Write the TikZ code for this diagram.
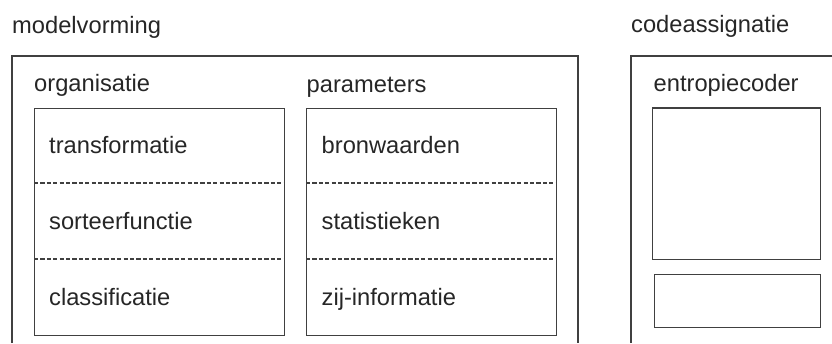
\documentclass[tikz,border=0pt]{standalone}
\usepackage{fontspec}
\setmainfont{Liberation Sans}
\begin{document}
\begin{tikzpicture}[x=1pt, y=-1pt,
  frame/.style={draw=black!75, line width=1.2pt},
  panel/.style={frame, minimum width=250pt, inner sep=0pt, anchor=north west},
  divider/.style={draw=black!75, line width=1.1pt, dash pattern=on 4.2pt off 2.2pt},
  lbl/.style={anchor=base west, inner sep=0pt, text=black!85,
    font=\fontsize{23.7}{28}\selectfont}]
  \useasboundingbox (0,0) rectangle (832,343);

  % open frames (they run past the bottom edge)
  \draw[frame] (12,343) |- (578,56) -- (578,343);
  \draw[frame] (631,343) |- (832,56);

  % section titles
  \node[lbl] (mv) at (12,33) {modelvorming};
  \node[lbl] (ca) at (631,32.5) {codeassignatie};

  % organisatie column
  \node[lbl] (orgT) at (34,91.5) {organisatie};
  \node[panel, minimum height=227pt] (org) at (34,107.5) {};
  \draw[divider] (34,183) -- (284,183);
  \draw[divider] (34,259) -- (284,259);
  \node[lbl] (t1) at (49,153.5) {transformatie};
  \node[lbl] (t2) at (49,229.5) {sorteerfunctie};
  \node[lbl] (t3) at (49,305) {classificatie};

  % parameters column
  \node[lbl] (parT) at (306.5,92) {parameters};
  \node[panel, minimum height=227pt] (par) at (306,107.5) {};
  \draw[divider] (306,183) -- (556,183);
  \draw[divider] (306,259) -- (556,259);
  \node[lbl] (p1) at (321.5,153.5) {bronwaarden};
  \node[lbl] (p2) at (321.5,229.5) {statistieken};
  \node[lbl] (p3) at (321.5,305) {zij-informatie};

  % entropiecoder
  \node[lbl] (ecT) at (653.5,91.5) {entropiecoder};
  \node[frame, anchor=north west, minimum width=168pt, minimum height=151.5pt, inner sep=0pt] (ec1) at (652,107.3) {};
  \node[frame, anchor=north west, minimum width=166.5pt, minimum height=53pt, inner sep=0pt] (ec2) at (653.5,274) {};
\end{tikzpicture}
\end{document}
